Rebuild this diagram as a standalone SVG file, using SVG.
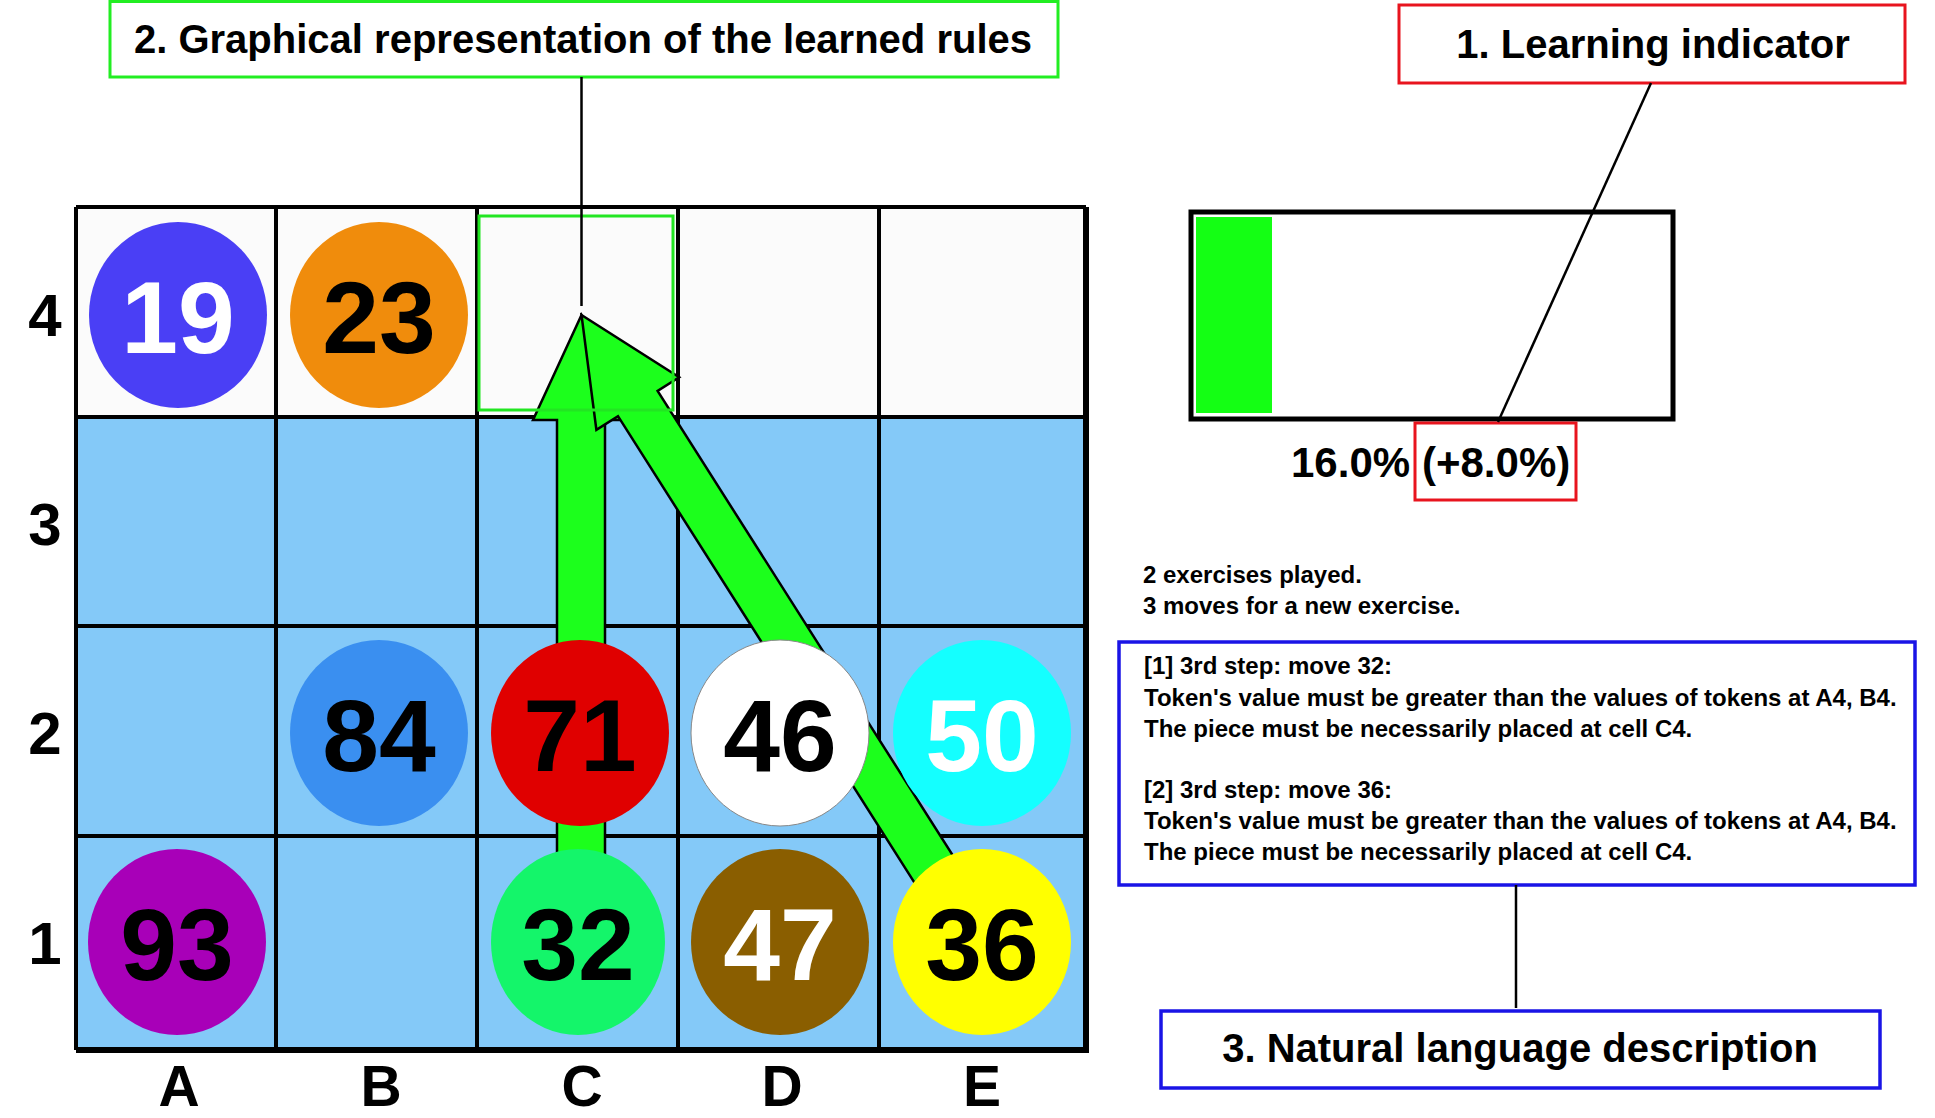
<svg xmlns="http://www.w3.org/2000/svg" width="1935" height="1118" viewBox="0 0 1935 1118">
<style>
text{font-family:"Liberation Sans",Arial,sans-serif;font-weight:bold;fill:#000}
.lab{font-size:60px;text-anchor:middle}
.clab{font-size:57px;text-anchor:middle}
.num{font-size:102px;text-anchor:middle}
.w{fill:#fff}
.cellw{fill:#fbfbfb}
.cellb{fill:#84c9f8}
.gl{stroke:#000;stroke-width:4;fill:none}
.arrow{fill:#1cff1c;stroke:#000;stroke-width:2.5;stroke-linejoin:miter}
.lead{stroke:#000;stroke-width:2.5;fill:none}
.small{font-size:24px}
.title{font-size:40px;text-anchor:middle}
</style>
<rect x="0" y="0" width="1935" height="1118" fill="#fff"/>
<g id="board">
<rect class="cellw" x="76" y="207" width="1010" height="210"/>
<rect class="cellb" x="76" y="417" width="1010" height="633"/>
<path class="gl" d="M276 207V1050M477 207V1050M678 207V1050M879 207V1050M76 417H1086M76 626H1086M76 836H1086"/>
<path class="gl" d="M76 207V1050M76 207H1086"/>
<path d="M1086 207V1053" stroke="#000" stroke-width="6"/>
<path d="M76 1050H1086" stroke="#000" stroke-width="6"/>
</g>
<g id="row-labels">
<text class="lab" x="45" y="336">4</text>
<text class="lab" x="45" y="545">3</text>
<text class="lab" x="45" y="754">2</text>
<text class="lab" x="45" y="964">1</text>
</g>
<g id="col-labels">
<text class="clab" x="179" y="1106">A</text>
<text class="clab" x="381" y="1106">B</text>
<text class="clab" x="582" y="1106">C</text>
<text class="clab" x="782" y="1106">D</text>
<text class="clab" x="982" y="1106">E</text>
</g>
<g id="connectors">
<polygon class="arrow" points="581.5,315 630,420 605,420 605,942 557,942 557,420 533,420"/>
<polygon class="arrow" points="581.5,315 679.2,377.3 657.6,391 999.8,929.4 960.2,954.6 618,416.2 596.4,429.9"/>
<rect x="479" y="216" width="194" height="194" fill="none" stroke="#22e622" stroke-width="3"/>
</g>
<g id="token-19"><ellipse cx="178" cy="315" rx="89" ry="93" fill="#4a3ff5"/><text class="num w" x="178" y="353">19</text></g>
<g id="token-23"><ellipse cx="379" cy="315" rx="89" ry="93" fill="#f08c0c"/><text class="num" x="379" y="353">23</text></g>
<g id="token-84"><ellipse cx="379" cy="733" rx="89" ry="93" fill="#3a8ff0"/><text class="num" x="379" y="771">84</text></g>
<g id="token-71"><ellipse cx="580" cy="733" rx="89" ry="93" fill="#e00000"/><text class="num" x="580" y="771">71</text></g>
<g id="token-46"><ellipse cx="780" cy="733" rx="89" ry="93" fill="#fff" stroke="#888" stroke-width="1"/><text class="num" x="780" y="771">46</text></g>
<g id="token-50"><ellipse cx="982" cy="733" rx="89" ry="93" fill="#14ffff"/><text class="num w" x="982" y="771">50</text></g>
<g id="token-93"><ellipse cx="177" cy="942" rx="89" ry="93" fill="#a800b8"/><text class="num" x="177" y="980">93</text></g>
<g id="token-32"><ellipse cx="578" cy="942" rx="87" ry="93" fill="#14f56a"/><text class="num" x="578" y="980">32</text></g>
<g id="token-47"><ellipse cx="780" cy="942" rx="89" ry="93" fill="#8a5e00"/><text class="num w" x="780" y="980">47</text></g>
<g id="token-36"><ellipse cx="982" cy="942" rx="89" ry="93" fill="#ffff00"/><text class="num" x="982" y="980">36</text></g>
<g id="label-2">
<rect x="110" y="1.5" width="948" height="75.5" fill="#fff" stroke="#22ee22" stroke-width="3"/>
<text class="title" x="583" y="53">2. Graphical representation of the learned rules</text>
</g>
<g id="label-1">
<rect x="1399" y="5" width="506" height="78" fill="#fff" stroke="#e8141e" stroke-width="3"/>
<text class="title" x="1653" y="58">1. Learning indicator</text>
</g>
<g id="progress">
<rect x="1191" y="212" width="482" height="207" fill="#fff" stroke="#000" stroke-width="5"/>
<rect x="1196" y="217" width="76" height="196" fill="#14ff14"/>
<text x="1291" y="477" style="font-size:42px">16.0%</text>
<text x="1422" y="477" style="font-size:42px">(+8.0%)</text>
<rect x="1415" y="423" width="161" height="77" fill="none" stroke="#e8141e" stroke-width="3"/>
</g>
<g id="status">
<text class="small" x="1143" y="583">2 exercises played.</text>
<text class="small" x="1143" y="614">3 moves for a new exercise.</text>
</g>
<g id="description">
<rect x="1119" y="642" width="796" height="243" fill="#fff" stroke="#1a14e6" stroke-width="3.5"/>
<text class="small" x="1144" y="674">[1] 3rd step: move 32:</text>
<text class="small" x="1144" y="706">Token's value must be greater than the values of tokens at A4, B4.</text>
<text class="small" x="1144" y="737">The piece must be necessarily placed at cell C4.</text>
<text class="small" x="1144" y="798">[2] 3rd step: move 36:</text>
<text class="small" x="1144" y="829">Token's value must be greater than the values of tokens at A4, B4.</text>
<text class="small" x="1144" y="860">The piece must be necessarily placed at cell C4.</text>
</g>
<g id="label-3">
<rect x="1161" y="1011" width="719" height="77" fill="#fff" stroke="#1a14e6" stroke-width="3.5"/>
<text class="title" x="1520" y="1062">3. Natural language description</text>
</g>
<g id="leader-lines">
<path class="lead" d="M581.5 77V306"/>
<path class="lead" d="M1651 83L1498 422"/>
<path class="lead" d="M1516 885V1008"/>
</g>
</svg>
